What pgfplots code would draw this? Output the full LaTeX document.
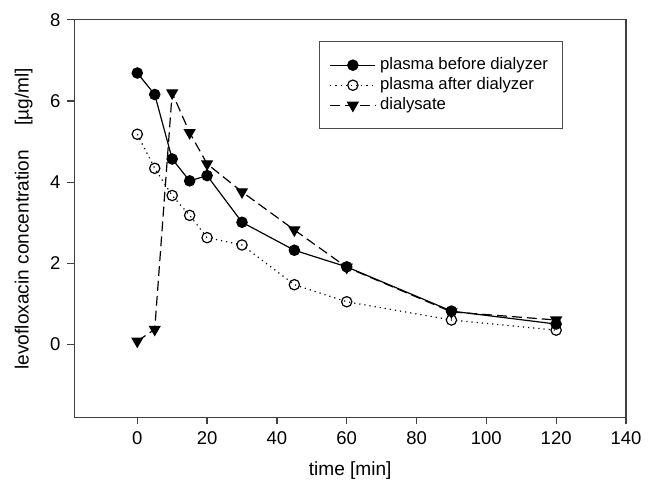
\documentclass[border=0pt]{standalone}
\usepackage{fontspec}
\setmainfont{Liberation Sans}
\usepackage{pgfplots}
\pgfplotsset{compat=1.18}

\begin{document}
\begin{tikzpicture}
\begin{axis}[scale only axis, width=277.5pt, height=200pt,
  xmin=-18, xmax=140, ymin=-1.8, ymax=8,
  xtick={0,20,...,140}, ytick={0,2,4,6,8},
  axis line style={black!75, line width=0.6pt},
  tick style={black!75, line width=0.6pt},
  tick align=outside, xtick pos=bottom, ytick pos=left,
  major tick length=3.5pt,
  /pgf/number format/assume math mode=true,
  tick label style={font=\fontsize{9.3}{11}\selectfont},
  label style={font=\fontsize{9.6}{11}\selectfont},
  xlabel={time [min]},
  ylabel={levofloxacin concentration \quad[µg/ml]},
  xlabel style={yshift=-2pt},
  ylabel style={yshift=2pt},
  legend style={at={(0.444,0.946)}, anchor=north west, draw=black!70,
    font=\fontsize{8.4}{10}\selectfont, row sep=-1.5pt,
    inner xsep=5pt, inner ysep=6pt},
  legend image code/.code={\draw[mark repeat=2, mark phase=2]
    plot coordinates {(0cm,0cm) (0.4cm,0cm) (0.8cm,0cm)};},
  legend cell align=left,
  clip=false]
\addplot[black, line width=0.6pt, mark=*, mark size=2.6pt] coordinates {
  (0,6.69) (5,6.16) (10,4.57) (15,4.03) (20,4.16) (30,3.01) (45,2.32) (60,1.91) (90,0.82) (120,0.50)};
\addlegendentry{plasma before dialyzer}
\addplot[black, line width=0.6pt, dotted, mark=o, mark size=2.6pt, mark options={solid, fill=white}] coordinates {
  (0,5.18) (5,4.34) (10,3.67) (15,3.18) (20,2.63) (30,2.45) (45,1.47) (60,1.05) (90,0.60) (120,0.35)};
\addlegendentry{plasma after dialyzer}
\addplot[black, line width=0.6pt, dash pattern=on 5pt off 2.5pt, mark=triangle*, mark size=3pt, mark options={solid, rotate=180}] coordinates {
  (0,0.08) (5,0.37) (10,6.20) (15,5.22) (20,4.45) (30,3.76) (45,2.82) (60,1.90) (90,0.80) (120,0.60)};
\addlegendentry{dialysate}
\path (rel axis cs:-0.135,-0.165) rectangle (rel axis cs:1.0324,1.05);
\end{axis}
\end{tikzpicture}
\end{document}
